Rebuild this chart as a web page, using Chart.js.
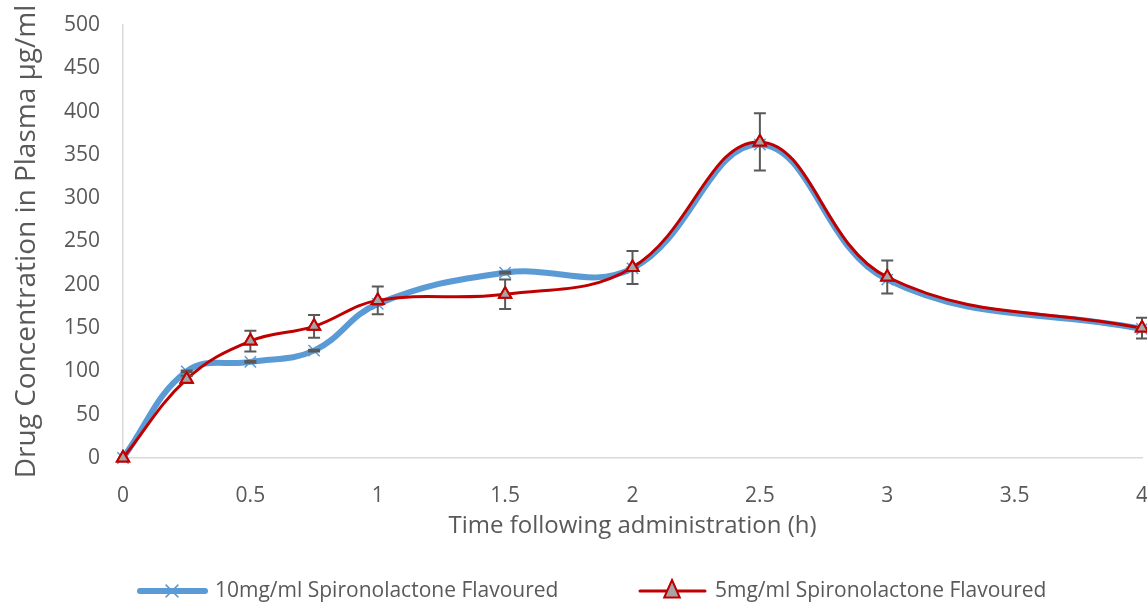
<!DOCTYPE html>
<html>
<head>
<meta charset="utf-8">
<script src="https://cdn.jsdelivr.net/npm/chart.js@4/dist/chart.umd.min.js"></script>
<style>
  html, body { margin: 0; padding: 0; background: #fff; }
  #wrap { width: 1147px; height: 603px; position: relative; }
</style>
</head>
<body>
<div id="wrap"><canvas id="pkChart"></canvas></div>
<script>
// time points (h)
const times = [0, 0.25, 0.5, 0.75, 1, 1.5, 2, 2.5, 3, 4];

// 10mg/ml series + its (tiny) error bars
const conc10 = [0, 100, 111, 124, 178, 214, 219, 362, 206, 149];
const err10 = [0, 1, 1, 1, 1, 1, 1, 1, 1, 1];

// 5mg/ml series + error bars
const conc5 = [0, 91, 135, 152, 182, 189, 220, 365, 209, 150];
const err5 = [0, 4, 12, 13, 16, 17, 19, 33, 19, 12];

const seriesLabels = ["10mg/ml Spironolactone Flavoured", "5mg/ml Spironolactone Flavoured"];
const xTitle = "Time following administration (h)";
const yTitle = "Drug Concentration in Plasma µg/ml";

const textGrey = "#595959";
const axisGrey = "#d9d9d9";

Chart.defaults.font.family = "'Open Sans', sans-serif";
Chart.defaults.color = textGrey;

function toPoints(ys) {
    return times.map((t, i) => ({ x: t, y: ys[i] }));
}

// error bars are drawn on top of the lines, then the triangles go back over them
const errorBarPlugin = {
    id: "errorBars",
    afterDatasetsDraw(chart) {
        const ctx = chart.ctx;
        const yScale = chart.scales.y;
        ctx.save();
        ctx.strokeStyle = "#595959";
        ctx.lineWidth = 2;
        chart.data.datasets.forEach((ds, di) => {
            const meta = chart.getDatasetMeta(di);
            ds.errors.forEach((e, i) => {
                if (!e) return;
                const p = meta.data[i];
                const top = yScale.getPixelForValue(ds.data[i].y + e);
                const bot = yScale.getPixelForValue(ds.data[i].y - e);
                ctx.beginPath();
                ctx.moveTo(p.x, top); ctx.lineTo(p.x, bot);
                ctx.moveTo(p.x - 6, top); ctx.lineTo(p.x + 6, top);
                ctx.moveTo(p.x - 6, bot); ctx.lineTo(p.x + 6, bot);
                ctx.stroke();
            });
        });
        ctx.restore();
        // redraw the 5mg markers above the bars
        chart.getDatasetMeta(1).data.forEach(p => p.draw(ctx));
    }
};

// Excel style legend: line sample with the marker in the middle
const legendPlugin = {
    id: "lineLegend",
    afterDraw(chart) {
        const ctx = chart.ctx;
        const y = 591;
        const starts = [140, 640];
        ctx.save();
        chart.data.datasets.forEach((ds, i) => {
            const sx = starts[i];
            const cx = sx + 32;
            ctx.strokeStyle = ds.borderColor;
            ctx.lineWidth = ds.borderWidth;
            ctx.lineCap = "round";
            ctx.beginPath();
            ctx.moveTo(sx, y); ctx.lineTo(sx + 65, y);
            ctx.stroke();

            ctx.lineCap = "butt";
            if (ds.pointStyle === "crossRot") {
                const r = ds.pointRadius * 0.8;
                ctx.strokeStyle = ds.pointBorderColor;
                ctx.lineWidth = ds.pointBorderWidth;
                ctx.beginPath();
                ctx.moveTo(cx - r, y - r); ctx.lineTo(cx + r, y + r);
                ctx.moveTo(cx + r, y - r); ctx.lineTo(cx - r, y + r);
                ctx.stroke();
            } else {
                const r = ds.pointRadius + 2;
                ctx.fillStyle = ds.pointBackgroundColor;
                ctx.strokeStyle = ds.pointBorderColor;
                ctx.lineWidth = ds.pointBorderWidth;
                ctx.beginPath();
                ctx.moveTo(cx, y - r - 2);
                ctx.lineTo(cx + r * 0.866, y + r * 0.5 + 2);
                ctx.lineTo(cx - r * 0.866, y + r * 0.5 + 2);
                ctx.closePath();
                ctx.fill();
                ctx.stroke();
            }

            ctx.fillStyle = textGrey;
            ctx.font = "21px 'Open Sans', sans-serif";
            ctx.textAlign = "left";
            ctx.textBaseline = "middle";
            ctx.fillText(ds.label, sx + 75, y);
        });
        ctx.restore();
    }
};

const ctx = document.getElementById("pkChart").getContext("2d");
new Chart(ctx, {
    type: "line",
    data: {
        datasets: [
            {
                label: seriesLabels[0],
                data: toPoints(conc10),
                errors: err10,
                borderColor: "#5B9BD5",
                borderWidth: 6,
                pointStyle: "crossRot",
                pointRadius: 8,
                pointBorderColor: "#5B9BD5",
                pointBorderWidth: 1.5,
                pointBackgroundColor: "#5B9BD5",
                tension: 0.4,
                order: 2,
                clip: false
            },
            {
                label: seriesLabels[1],
                data: toPoints(conc5),
                errors: err5,
                borderColor: "#C00000",
                borderWidth: 3,
                pointStyle: "triangle",
                pointRadius: 7,
                pointBorderColor: "#C00000",
                pointBorderWidth: 2,
                pointBackgroundColor: "#A5A5A5",
                tension: 0.4,
                order: 1,
                clip: false
            }
        ]
    },
    options: {
        responsive: true,
        maintainAspectRatio: false,
        animation: false,
        layout: { autoPadding: false, padding: { top: 0, right: 0, bottom: 62, left: 0 } },
        plugins: {
            legend: { display: false },
            tooltip: { enabled: false }
        },
        scales: {
            x: {
                type: "linear",
                min: 0,
                max: 4,
                grid: { display: false, drawTicks: false },
                border: { display: true, color: axisGrey, width: 1.5 },
                ticks: {
                    stepSize: 0.5,
                    padding: 25,
                    font: { size: 21 },
                    color: textGrey,
                    maxRotation: 0,
                    callback: v => String(+v.toFixed(2))
                },
                title: {
                    display: true,
                    text: xTitle,
                    font: { size: 24, lineHeight: 1.2 },
                    color: textGrey,
                    padding: { top: 4, bottom: 0 }
                },
                afterFit(scale) {
                    scale.height = 83;
                    scale.paddingLeft = 0;
                    scale.paddingRight = 5;
                }
            },
            y: {
                min: 0,
                max: 500,
                grid: { display: false, drawTicks: false },
                border: { display: true, color: axisGrey, width: 1.5 },
                ticks: {
                    stepSize: 50,
                    padding: 23,
                    font: { size: 21 },
                    color: textGrey
                },
                title: {
                    display: true,
                    text: yTitle,
                    font: { size: 28, lineHeight: 1.2 },
                    color: textGrey,
                    padding: { top: 10, bottom: 10 }
                },
                afterFit(scale) {
                    scale.width = 123;
                    scale.paddingTop = 25;
                    scale.paddingBottom = 0;
                }
            }
        }
    },
    plugins: [errorBarPlugin, legendPlugin]
});
</script>
</body>
</html>
